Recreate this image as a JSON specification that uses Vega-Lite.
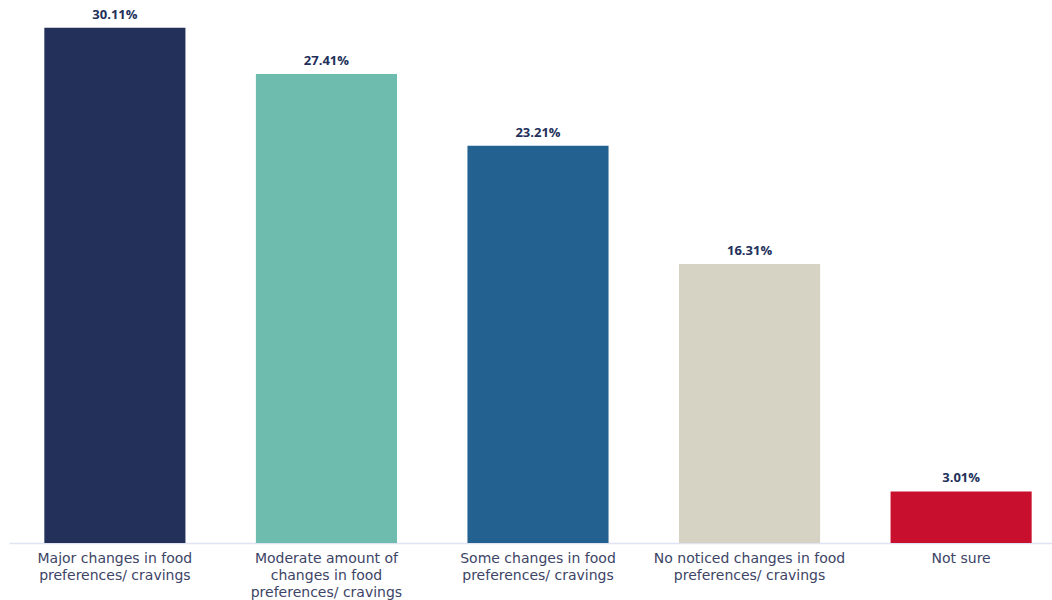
{
  "$schema": "https://vega.github.io/schema/vega-lite/v6.json",
  "width": 1058,
  "height": 539,
  "autosize": {"type": "none"},
  "padding": {"left": 9, "top": 4, "right": 0, "bottom": 57},
  "background": "white",
  "config": {"view": {"stroke": null}},
  "data": {"values": [
    {"category": "Major changes in food|preferences/ cravings", "value": 30.11, "label": "30.11%", "color": "#22305a"},
    {"category": "Moderate amount of|changes in food|preferences/ cravings", "value": 27.41, "label": "27.41%", "color": "#6dbcad"},
    {"category": "Some changes in food|preferences/ cravings", "value": 23.21, "label": "23.21%", "color": "#236190"},
    {"category": "No noticed changes in food|preferences/ cravings", "value": 16.31, "label": "16.31%", "color": "#d6d3c4"},
    {"category": "Not sure", "value": 3.01, "label": "3.01%", "color": "#c8102e"}
  ]},
  "encoding": {
    "x": {
      "field": "category", "type": "nominal", "sort": null,
      "scale": {"paddingInner": 0.333, "paddingOuter": 0.167},
      "axis": {
        "title": null, "labelAngle": 0, "ticks": false,
        "labelExpr": "split(datum.label, '|')",
        "labelFont": "DejaVu Sans", "labelFontSize": 14, "labelColor": "#3d4466",
        "labelLineHeight": 17, "labelPadding": 8, "labelLimit": 400,
        "domainColor": "#dfe3f3", "domainWidth": 1.5
      }
    },
    "y": {
      "field": "value", "type": "quantitative",
      "scale": {"domain": [0, 31.5]},
      "axis": null
    }
  },
  "layer": [
    {
      "mark": {"type": "bar"},
      "encoding": {"color": {"field": "color", "type": "nominal", "scale": null}}
    },
    {
      "mark": {"type": "text", "baseline": "bottom", "dy": -6, "font": "Open Sans", "fontWeight": "bold", "fontSize": 13, "color": "#22305a"},
      "encoding": {"text": {"field": "label"}}
    }
  ]
}
